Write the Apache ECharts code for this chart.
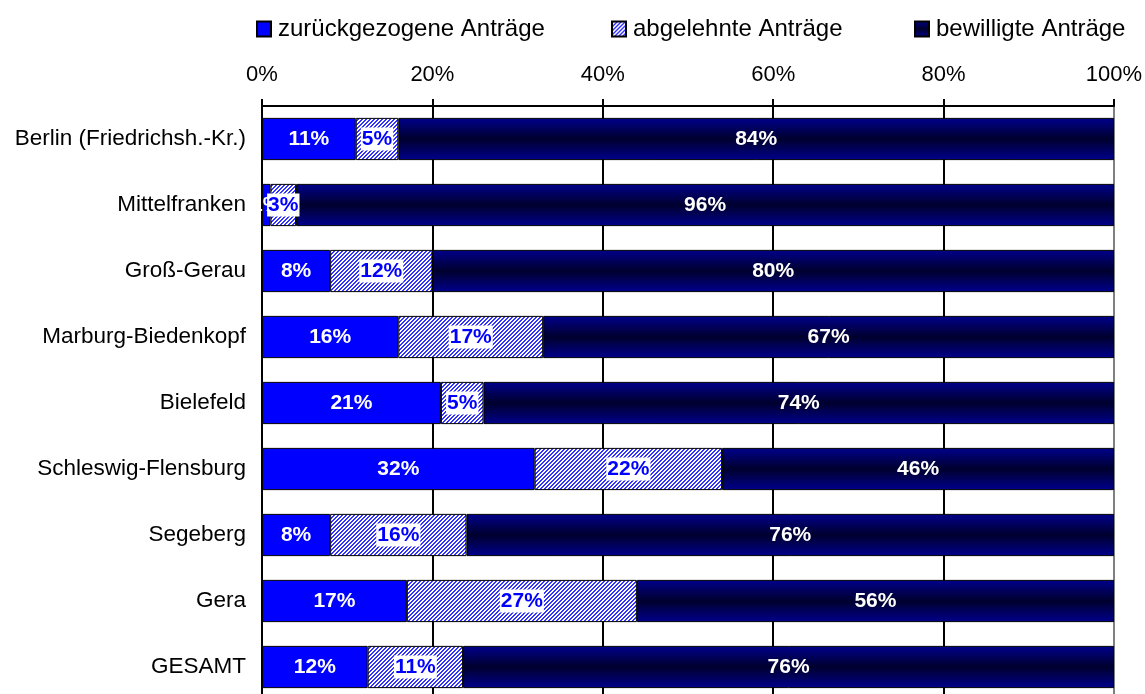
<!DOCTYPE html>
<html>
<head>
<meta charset="utf-8">
<script src="https://cdn.jsdelivr.net/npm/echarts@6/dist/echarts.min.js"></script>
<style>
  html, body { margin: 0; padding: 0; background: #fff; }
  #chart { width: 1145px; height: 694px; }
</style>
</head>
<body>
<div id="chart"></div>
<script>
// Daten (Anteile in %)
const categories = ['Berlin (Friedrichsh.-Kr.)', 'Mittelfranken', 'Groß-Gerau', 'Marburg-Biedenkopf',
  'Bielefeld', 'Schleswig-Flensburg', 'Segeberg', 'Gera', 'GESAMT']
const seriesNames = ['zurückgezogene Anträge', 'abgelehnte Anträge', 'bewilligte Anträge']
const zurueckgezogen = [11, 1, 8, 16, 21, 32, 8, 17, 12.4]
const abgelehnt = [5, 3, 12, 17, 5, 22, 16, 27, 11.2]
const bewilligt = [84, 96, 80, 67, 74, 46, 76, 56, 76.4]
const tickLabels = [0, 20, 40, 60, 80, 100]

const font = 'Arial, "Liberation Sans", sans-serif'

// feine Schraffur für abgelehnte Anträge (blau/weiß, diagonal)
function hatch() {
  const c = document.createElement('canvas')
  c.width = 4
  c.height = 4
  const ctx = c.getContext('2d')
  ctx.fillStyle = '#ffffff'
  ctx.fillRect(0, 0, 4, 4)
  ctx.fillStyle = '#3333ff'
  for (let x = 0; x < 4; x++) {
    for (let y = 0; y < 4; y++) {
      if ((x + y) % 4 < 2) ctx.fillRect(x, y, 1, 1)
    }
  }
  return { image: c, repeat: 'repeat' }
}

const navyGradient = new echarts.graphic.LinearGradient(0, 0, 0, 1, [
  { offset: 0, color: '#00008c' },
  { offset: 0.5, color: '#00002e' },
  { offset: 1, color: '#00008c' }
])

const chart = echarts.init(document.getElementById('chart'))

const legendBase = {
  top: 17,
  padding: 0,
  itemWidth: 14,
  itemHeight: 15,
  icon: 'rect',
  textStyle: { fontFamily: font, fontSize: 24, color: '#000', padding: [0, 0, 0, 2] }
}

const labelBase = {
  show: true,
  position: 'inside',
  formatter: p => Math.round(p.value) + '%',
  fontFamily: font,
  fontWeight: 'bold',
  fontSize: 21
}

const option = {
  animation: false,
  backgroundColor: '#fff',
  legend: [
    Object.assign({ left: 256, data: [seriesNames[0]] }, legendBase),
    Object.assign({ left: 611, data: [seriesNames[1]] }, legendBase),
    Object.assign({ left: 914, data: [seriesNames[2]] }, legendBase)
  ],
  grid: { left: 262, right: 31, top: 106, height: 594, containLabel: false, outerBoundsMode: 'none' },
  xAxis: {
    type: 'value',
    position: 'top',
    min: 0,
    max: 100,
    interval: 20,
    axisLine: { show: true, lineStyle: { color: '#000', width: 2 } },
    axisTick: { show: true, length: 7, lineStyle: { color: '#000', width: 2 } },
    axisLabel: {
      formatter: v => tickLabels.includes(v) ? v + '%' : '',
      fontFamily: font, fontSize: 22, color: '#000', margin: 20
    },
    splitLine: {
      show: true,
      lineStyle: { color: ['#000', '#000', '#000', '#000', '#000', '#808080'], width: 2 }
    }
  },
  yAxis: {
    type: 'category',
    inverse: true,
    data: categories,
    axisLine: { show: true, lineStyle: { color: '#000', width: 2 } },
    axisTick: { show: false },
    axisLabel: { fontFamily: font, fontSize: 22.5, color: '#000', margin: 16 }
  },
  series: [
    {
      name: seriesNames[0],
      type: 'bar',
      stack: 'a',
      barCategoryGap: '36%',
      data: zurueckgezogen,
      itemStyle: { color: '#0000ff', borderColor: '#000', borderWidth: 1 },
      label: Object.assign({ color: '#fff' }, labelBase)
    },
    {
      name: seriesNames[1],
      type: 'bar',
      stack: 'a',
      data: abgelehnt,
      itemStyle: { color: hatch(), borderColor: '#000', borderWidth: 1 },
      label: Object.assign({ color: '#0000ff', backgroundColor: '#fff', padding: [2, 1, 0, 1] }, labelBase)
    },
    {
      name: seriesNames[2],
      type: 'bar',
      stack: 'a',
      data: bewilligt,
      itemStyle: { color: navyGradient, borderColor: '#000', borderWidth: 1 },
      label: Object.assign({ color: '#fff' }, labelBase)
    }
  ]
}

chart.setOption(option)
</script>
</body>
</html>
